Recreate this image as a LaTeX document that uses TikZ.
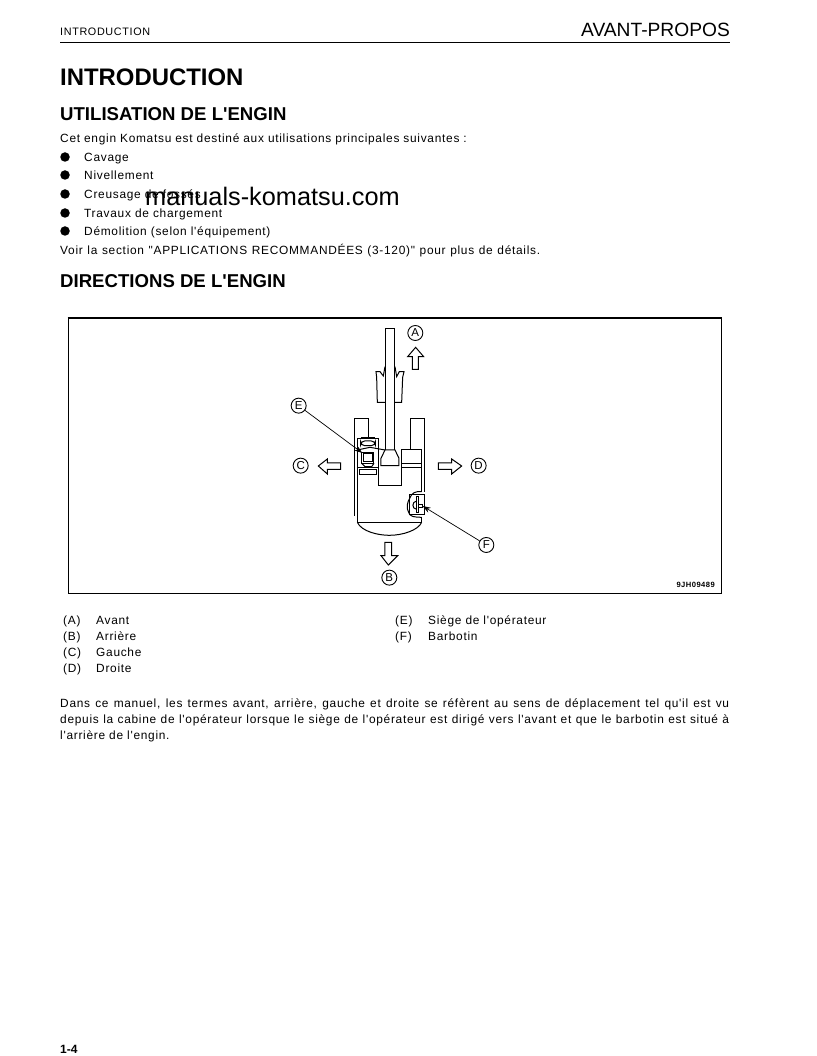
\documentclass[tikz,border=0pt]{standalone}
\usepackage{fontspec}
\setmainfont{Liberation Sans}
\newfontfamily\spaced[LetterSpace=6]{Liberation Sans}
\newfontfamily\droit{Liberation Sans}
\usetikzlibrary{arrows.meta}
\tikzset{
  txt/.style={anchor=base west,inner sep=0pt,font=\spaced\fontsize{11.9}{13}\selectfont},
  titre/.style={anchor=base west,inner sep=0pt,font=\droit\bfseries\fontsize{23.9}{26}\selectfont},
  soustitre/.style={anchor=base west,inner sep=0pt,font=\droit\bfseries\fontsize{18.6}{20}\selectfont},
  puce/.style={circle,fill=black,inner sep=0pt,minimum size=9.5pt},
  repere/.style={circle,draw=black,line width=.9pt,inner sep=0pt,minimum size=15pt,font=\fontsize{11.5}{12}\selectfont},
  trait/.style={line width=1pt,line join=miter},
  fleche/.style={line width=1pt,line join=miter,fill=white},
  renvoi/.style={line width=.7pt,-{Stealth[length=8pt,width=5.5pt]}},
}
\begin{document}
\begin{tikzpicture}[x=1pt,y=-1pt]
\useasboundingbox (0,0) rectangle (816,1056);
\fill[white] (0,0) rectangle (816,1056);
% header
\node[anchor=base west,inner sep=0pt,font=\spaced\fontsize{10.8}{12}\selectfont] (hl) at (60,36) {INTRODUCTION};
\node[anchor=base east,inner sep=0pt,font=\droit\fontsize{19.2}{20}\selectfont] (hr) at (730,36.5) {AVANT-PROPOS};
\draw[line width=1pt] (60,42.5) -- (730,42.5);
\node[titre] (t1) at (60,85.5) {INTRODUCTION};
\node[soustitre] (t2) at (60,120.5) {UTILISATION DE L'ENGIN};
\node[txt] (l0) at (60,143) {Cet engin Komatsu est destiné aux utilisations principales suivantes :};
\node[puce] (b1) at (65,157) {};
\node[puce] (b2) at (65,175) {};
\node[puce] (b3) at (65,194) {};
\node[puce] (b4) at (65,213) {};
\node[puce] (b5) at (65,231) {};
\node[txt] (l1) at (84,162) {Cavage};
\node[txt] (l2) at (84,180) {Nivellement};
\node[txt] (l3) at (84,199) {Creusage de fossés};
\node[txt] (l4) at (84,218) {Travaux de chargement};
\node[txt] (l5) at (84,236) {Démolition (selon l'équipement)};
\node[txt] (l6) at (60,255) {\makebox[480pt][s]{Voir la section "APPLICATIONS RECOMMANDÉES (3-120)" pour plus de détails.}};
\node[anchor=base west,inner sep=0pt,font=\droit\fontsize{25.3}{28}\selectfont] (wm) at (145,206) {manuals-komatsu.com};
\node[soustitre] (t3) at (60,287.5) {DIRECTIONS DE L'ENGIN};
% frame
\draw[line width=1pt] (68,593) -- (68,318) (721,318) -- (721,593) -- (68,593);
\draw[line width=2pt] (67.5,318) -- (721.5,318);
\node[anchor=base east,inner sep=0pt,font=\spaced\bfseries\fontsize{7.6}{8}\selectfont] (ref) at (715,587) {9JH09489};
% machine
\begin{scope}[shift={(270,315)},x=.3333pt,y=-.3333pt]
\draw[trait] (346,405) -- (346,40) -- (374,40) -- (374,405);
\draw[trait] (345,155) -- (340,183) -- (330,170) -- (318,170) -- (320,187) -- (322,262) -- (345,262);
\draw[trait] (375,155) -- (380,185) -- (388,170) -- (402,170) -- (398,187) -- (395,262) -- (375,262);
\draw[trait] (345,405) -- (375,405) -- (387,430) -- (387,452) -- (333,452) -- (333,430) -- cycle;
\draw[trait] (326,405) -- (326,512) -- (394,512) -- (394,405);
\draw[trait] (255,602) -- (255,312) -- (296,312) -- (296,372);
\draw[trait] (421,405) -- (421,312) -- (463,312) -- (463,530);
\draw[trait] (394,405) -- (455,405) -- (455,530);
\draw[trait] (394,447) -- (455,447) (394,457) -- (455,457);
\draw[trait] (262,622) -- (262,372) -- (326,372) -- (326,405);
\draw[trait] (262,405) -- (300,397) -- (345,405);
\draw[trait,rounded corners=4pt] (272,378) rectangle (316,392);
\draw[line width=1.6pt] (272,369) -- (316,369);
\draw[trait] (275,412) rectangle (312,445);
\draw[trait] (280,415) -- (308,415) -- (308,440) -- (280,440) -- cycle;
\draw[trait] (275,445) -- (285,455) -- (305,455) -- (312,445);
\draw[trait] (262,458) -- (326,458);
\draw[trait] (268,465) rectangle (320,478);
\draw[trait] (262,622) -- (455,622) -- (455,607);
\draw[trait] (262,622) .. controls (275,650) and (325,661) .. (358,661) .. controls (400,661) and (445,645) .. (455,622);
\draw[trait] (455,530) .. controls (435,528) and (425,535) .. (420,548) .. controls (412,560) and (408,580) .. (416,592) .. controls (418,605) and (435,607) .. (455,607);
\draw[trait] (420,540) rectangle (465,600);
\draw[trait,fill=white] (440,545) rectangle (447,592);
\draw[trait] (440,558) .. controls (425,560) and (425,582) .. (440,583);
\draw[trait] (447,568) -- (458,568) -- (458,578) -- (447,578);
% direction arrows
\draw[fleche] (437,97) -- (461,125) -- (445,125) -- (445,163) -- (427,163) -- (427,125) -- (413,125) -- cycle;
\draw[fleche] (145,453) -- (172,432) -- (172,444) -- (212,444) -- (212,463) -- (172,463) -- (172,477) -- cycle;
\draw[fleche] (575,453) -- (545,432) -- (545,444) -- (505,444) -- (505,463) -- (545,463) -- (545,477) -- cycle;
\draw[fleche] (355,750) -- (333,722) -- (345,722) -- (345,682) -- (365,682) -- (365,722) -- (383,722) -- cycle;
% call-outs
\node[repere] (A) at (436,54) {A};
\node[repere] (B) at (358,788) {B};
\node[repere] (C) at (92,452) {C};
\node[repere] (D) at (626,452) {D};
\node[repere] (E) at (86,272) {E};
\node[repere] (F) at (649,690) {F};
\coordinate (Ecible) at (277,414);
\coordinate (Fcible) at (458,573);
\draw[renvoi] (E) -- (Ecible);
\draw[renvoi] (F) -- (Fcible);
\end{scope}
% legend
\node[txt] (ka) at (63,624.5) {(A)}; \node[txt] (va) at (96,624.5) {Avant};
\node[txt] (kb) at (63,640.5) {(B)}; \node[txt] (vb) at (96,640.5) {Arrière};
\node[txt] (kc) at (63,656.5) {(C)}; \node[txt] (vc) at (96,656.5) {Gauche};
\node[txt] (kd) at (63,672.5) {(D)}; \node[txt] (vd) at (96,672.5) {Droite};
\node[txt] (ke) at (395,624.5) {(E)}; \node[txt] (ve) at (428,624.5) {Siège de l'opérateur};
\node[txt] (kf) at (395,640.5) {(F)}; \node[txt] (vf) at (428,640.5) {Barbotin};
% paragraph
\node[txt] (p1) at (60,707.5) {\makebox[669pt][s]{Dans ce manuel, les termes avant, arrière, gauche et droite se réfèrent au sens de déplacement tel qu'il est vu}};
\node[txt] (p2) at (60,723.5) {\makebox[669pt][s]{depuis la cabine de l'opérateur lorsque le siège de l'opérateur est dirigé vers l'avant et que le barbotin est situé à}};
\node[txt] (p3) at (60,739.5) {l'arrière de l'engin.};
\node[anchor=base west,inner sep=0pt,font=\droit\bfseries\fontsize{12}{13}\selectfont] (pg) at (60,1053) {1-4};
\end{tikzpicture}
\end{document}
